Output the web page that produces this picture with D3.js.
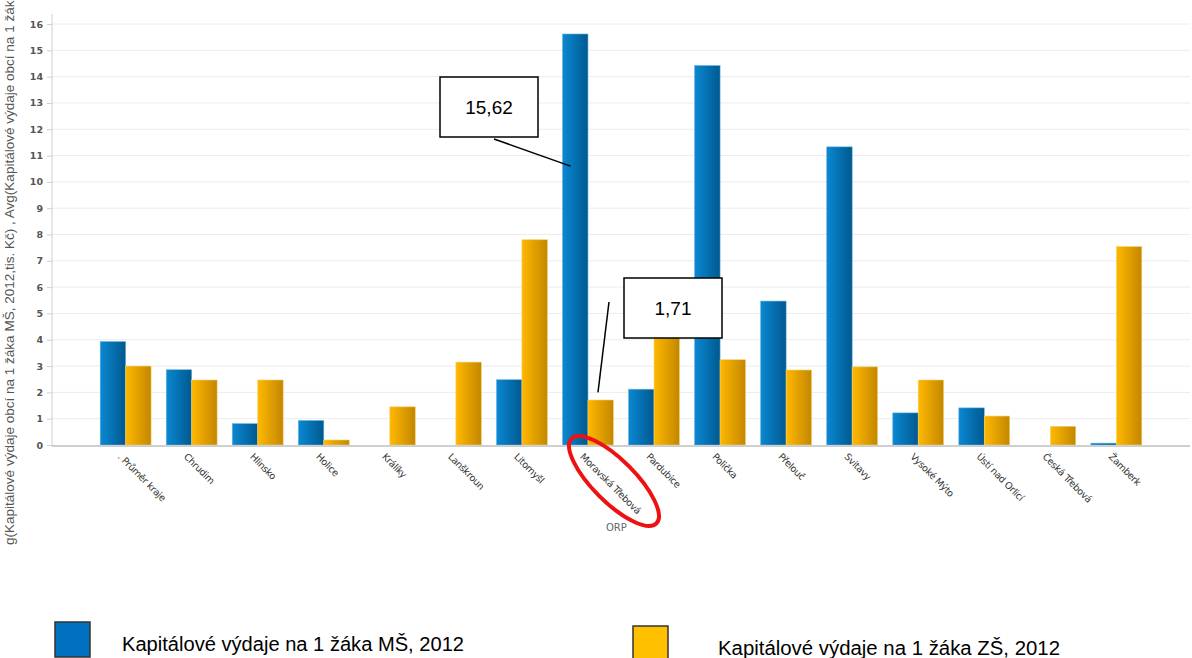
<!DOCTYPE html>
<html>
<head>
<meta charset="utf-8">
<script src="https://cdn.jsdelivr.net/npm/d3@7"></script>
<style>
  body { margin: 0; background: #fff; }
  svg { display: block; }
</style>
</head>
<body>
<div id="chart"></div>
<script>
const FRAME_WIDTH = 1192;
const FRAME_HEIGHT = 658;
const MARGINS = {left: 52, right: 2, top: 24, bottom: 213};

const VIS_WIDTH = FRAME_WIDTH - MARGINS.left - MARGINS.right;
const VIS_HEIGHT = FRAME_HEIGHT - MARGINS.top - MARGINS.bottom;

// data
const CATEGORIES = [". Průměr kraje", "Chrudim", "Hlinsko", "Holice", "Králíky", "Lanškroun",
  "Litomyšl", "Moravská Třebová", "Pardubice", "Polička", "Přelouč", "Svitavy",
  "Vysoké Mýto", "Ústí nad Orlicí", "Česká Třebová", "Žamberk"];
const MS_VALUES = [3.93, 2.86, 0.81, 0.93, 0, 0, 2.48, 15.62, 2.12, 14.42, 5.47, 11.33, 1.22, 1.41, 0, 0.07];
const ZS_VALUES = [3.0, 2.47, 2.47, 0.19, 1.45, 3.15, 7.8, 1.71, 4.3, 3.24, 2.85, 2.97, 2.47, 1.1, 0.71, 7.54];
const SERIES = ["Kapitálové výdaje na 1 žáka MŠ, 2012", "Kapitálové výdaje na 1 žáka ZŠ, 2012"];
const Y_TICKS = d3.range(0, 17);
const Y_TITLE = "Avg(Kapitálové výdaje obcí na 1 žáka MŠ, 2012,tis. Kč) , Avg(Kapitálové výdaje obcí na 1 žáka ZŠ, 2012,tis. Kč)";
const X_TITLE = "ORP";
const CALLOUTS = [{series: 0, cat: "Moravská Třebová", label: "15,62"},
                  {series: 1, cat: "Moravská Třebová", label: "1,71"}];

const data = CATEGORIES.map((c, i) => ({cat: c, values: [MS_VALUES[i], ZS_VALUES[i]]}));

const FRAME = d3.select("#chart")
  .append("svg")
    .attr("width", FRAME_WIDTH)
    .attr("height", FRAME_HEIGHT);

// gradients for the bars
const defs = FRAME.append("defs");
const GRADS = [["gBlue", "#0a88d2", "#00598f"], ["gOrange", "#ffb800", "#c38700"]];
GRADS.forEach((g) => {
  const lg = defs.append("linearGradient").attr("id", g[0])
    .attr("x1", "0").attr("x2", "1").attr("y1", "0").attr("y2", "0");
  lg.append("stop").attr("offset", "0").attr("stop-color", g[1]);
  lg.append("stop").attr("offset", "1").attr("stop-color", g[2]);
});
// the y title is clipped at the bottom of the plot area, as in the original
defs.append("clipPath").attr("id", "ytClip")
  .append("rect").attr("x", 0).attr("y", 0).attr("width", 30).attr("height", 545);

const X_SCALE = d3.scaleBand()
  .domain(CATEGORIES)
  .range([0, VIS_WIDTH])
  .paddingInner(0.23)
  .paddingOuter(0.73);

const X_SUB = d3.scaleBand()
  .domain([0, 1])
  .range([0, X_SCALE.bandwidth()]);

const Y_SCALE = d3.scaleLinear()
  .domain([0, 16])
  .range([VIS_HEIGHT, 0]);

const G = FRAME.append("g")
  .attr("transform", "translate(" + MARGINS.left + "," + MARGINS.top + ")");

// gridlines
G.append("g")
  .selectAll("line")
  .data(Y_TICKS.slice(1))
  .enter()
  .append("line")
    .attr("x1", 0)
    .attr("x2", VIS_WIDTH)
    .attr("y1", (d) => Y_SCALE(d))
    .attr("y2", (d) => Y_SCALE(d))
    .attr("stroke", "#ececec")
    .attr("stroke-width", 1);

// y axis
const yAxis = G.append("g")
  .call(d3.axisLeft(Y_SCALE).tickValues(Y_TICKS).tickSize(5).tickPadding(4));
yAxis.select(".domain").attr("stroke", "#cfcfcf").attr("d", "M0," + (VIS_HEIGHT) + "V-10");
yAxis.selectAll(".tick line").attr("stroke", "#cfcfcf");
yAxis.selectAll(".tick text")
  .attr("font-family", "DejaVu Sans")
  .attr("font-weight", "bold")
  .attr("font-size", "9.5px")
  .attr("fill", "#555");

// bars
const groups = G.selectAll(".grp")
  .data(data)
  .enter()
  .append("g")
    .attr("class", "grp")
    .attr("transform", (d) => "translate(" + X_SCALE(d.cat) + ",0)");

groups.selectAll("rect")
  .data((d) => d.values.map((v, i) => ({v: v, i: i})).filter((e) => e.v > 0))
  .enter()
  .append("rect")
    .attr("x", (d) => X_SUB(d.i))
    .attr("y", (d) => Y_SCALE(d.v))
    .attr("width", X_SUB.bandwidth())
    .attr("height", (d) => VIS_HEIGHT - Y_SCALE(d.v))
    .attr("fill", (d) => d.i === 0 ? "url(#gBlue)" : "url(#gOrange)")
    .attr("stroke", (d) => d.i === 0 ? "#5fb0e0" : "#f5cf6a")
    .attr("stroke-width", 0.6);

// x axis line
G.append("line")
  .attr("x1", 0).attr("x2", VIS_WIDTH)
  .attr("y1", VIS_HEIGHT + 1).attr("y2", VIS_HEIGHT + 1)
  .attr("stroke", "#cfcfcf")
  .attr("stroke-width", 2);

// x labels
G.append("g")
  .selectAll("text")
  .data(CATEGORIES)
  .enter()
  .append("text")
    .attr("transform", (d) => "translate(" + (X_SCALE(d) + X_SCALE.bandwidth() / 2 - 6) + "," + (VIS_HEIGHT + 10) + ") rotate(45)")
    .attr("dy", "0.35em")
    .attr("font-family", "DejaVu Sans")
    .attr("font-size", "9.5px")
    .attr("letter-spacing", "-0.3px")
    .attr("fill", "#333")
    .text((d) => d);

// axis titles
G.append("text")
  .attr("x", X_SCALE("Moravská Třebová") + X_SCALE.bandwidth() + 3)
  .attr("y", VIS_HEIGHT + 86)
  .attr("text-anchor", "middle")
  .attr("font-family", "DejaVu Sans")
  .attr("font-size", "10px")
  .attr("fill", "#666")
  .text(X_TITLE);

const yTitle = FRAME.append("g")
  .attr("clip-path", "url(#ytClip)")
  .append("text")
    .attr("font-family", "Liberation Sans")
    .attr("font-size", "12px")
    .attr("fill", "#555")
    .text(Y_TITLE);
// fit so that "g(" ... "žál" fills the visible 545px, like the original
const yNode = yTitle.node();
const visEnd = Y_TITLE.indexOf("žáka ZŠ") + 3;
const visW = yNode.getSubStringLength(2, visEnd - 2);
const fs = 12 * 545 / visW;
yTitle.attr("font-size", fs + "px");
const preW = yNode.getSubStringLength(0, 2);
yTitle.attr("transform", "translate(14," + (545 + preW) + ") rotate(-90)");

// red ellipse around the highlighted label
const hx = X_SCALE("Moravská Třebová") + X_SCALE.bandwidth() / 2;
G.append("ellipse")
  .attr("transform", "translate(" + (hx + 26) + "," + (VIS_HEIGHT + 36) + ") rotate(45)")
  .attr("rx", 60)
  .attr("ry", 21)
  .attr("fill", "none")
  .attr("stroke", "#ee1111")
  .attr("stroke-width", 4);

// callouts
const BOX_POS = [{x: 440 - MARGINS.left, y: 77 - MARGINS.top, lx: 494 - MARGINS.left, ly: 139 - MARGINS.top, ex: 8, ev: 10.6},
                 {x: 624 - MARGINS.left, y: 278 - MARGINS.top, lx: 609 - MARGINS.left, ly: 302 - MARGINS.top, ex: 10, ev: 2.0}];
CALLOUTS.forEach((c, k) => {
  const p = BOX_POS[k];
  const tx = X_SCALE(c.cat) + X_SUB(c.series) + p.ex;
  G.append("line")
    .attr("x1", p.lx).attr("y1", p.ly)
    .attr("x2", tx).attr("y2", Y_SCALE(p.ev))
    .attr("stroke", "#000")
    .attr("stroke-width", 1.5);
  G.append("rect")
    .attr("x", p.x).attr("y", p.y)
    .attr("width", 98).attr("height", 60)
    .attr("fill", "#fff")
    .attr("stroke", "#000")
    .attr("stroke-width", 1.5);
  G.append("text")
    .attr("x", p.x + 49).attr("y", p.y + 37)
    .attr("text-anchor", "middle")
    .attr("font-family", "Liberation Sans")
    .attr("font-size", "19px")
    .attr("fill", "#000")
    .text(c.label);
});

// legend
const LEGEND_POS = [{x: 55, y: 622, tx: 122, ty: 651}, {x: 633, y: 626, tx: 718, ty: 655}];
const legend = FRAME.append("g")
  .selectAll("g")
  .data(SERIES)
  .enter()
  .append("g");
legend.append("rect")
  .attr("x", (d, i) => LEGEND_POS[i].x)
  .attr("y", (d, i) => LEGEND_POS[i].y)
  .attr("width", 35)
  .attr("height", 35)
  .attr("fill", (d, i) => i === 0 ? "#0070c0" : "#ffc000")
  .attr("stroke", "#333")
  .attr("stroke-width", 1.5);
legend.append("text")
  .attr("x", (d, i) => LEGEND_POS[i].tx)
  .attr("y", (d, i) => LEGEND_POS[i].ty)
  .attr("font-family", "Liberation Sans")
  .attr("font-size", "19.5px")
  .attr("textLength", 342)
  .attr("lengthAdjust", "spacingAndGlyphs")
  .attr("fill", "#000")
  .text((d) => d);
</script>
</body>
</html>
